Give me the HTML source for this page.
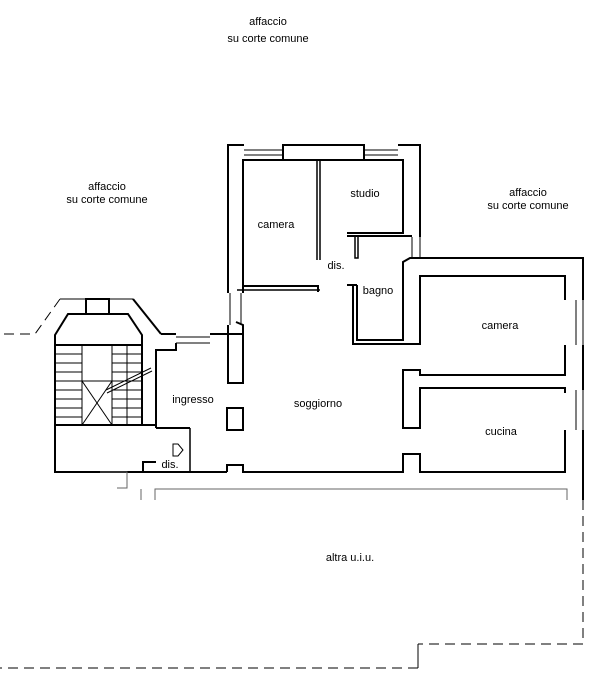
<!DOCTYPE html>
<html><head><meta charset="utf-8"><style>
html,body{margin:0;padding:0;background:#fff;}
svg{display:block;}
text{font-family:"Liberation Sans",sans-serif;font-size:11px;fill:#000;text-anchor:middle;}
</style></head><body>
<svg width="612" height="684" viewBox="0 0 612 684" xmlns="http://www.w3.org/2000/svg">
<g fill="none" stroke="#000" stroke-width="2">
<polyline points="243,293 243,160 283,160"/>
<polyline points="228,293 228,145 244,145"/>
<rect x="283" y="145" width="81" height="15"/>
<polyline points="398,145 420,145 420,237"/>
<polyline points="364,160 403,160 403,233 347,233"/>
<polyline points="347,236 412,236"/>
<rect x="355" y="236" width="3" height="22" stroke-width="1.5"/>
<line x1="317" y1="160" x2="317" y2="260" stroke-width="1.5"/>
<line x1="320" y1="160" x2="320" y2="260" stroke-width="1.5"/>
<polyline points="243,286 318,286 318,292"/>
<line x1="237" y1="290" x2="320" y2="290" stroke-width="1.5"/>
<polyline points="353,285 353,344 420,344 420,276 565,276 565,300"/>
<polyline points="357,285 357,340 403,340 403,262 410,258 583,258 583,300"/>
<line x1="347" y1="285" x2="357" y2="285"/>
<polyline points="565,345 565,375 420,375 420,370 403,370 403,428 420,428 420,388 565,388 565,393"/>
<polyline points="583,345 583,390"/>
<polyline points="565,430 565,472 420,472 420,454 403,454 403,472 243,472 243,465 227,465 227,472"/>
<polyline points="583,430 583,500"/>
<rect x="227" y="408" width="16" height="22"/>
<polyline points="228,325 228,383 243,383 243,325 236,322"/>
<polyline points="161,334 176,334"/>
<polyline points="210,334 243,334"/>
<polyline points="156,428 156,350 176,350 176,343"/>
<polyline points="227,472 55,472 55,335 68,314 128,314 142,335 142,425 156,425"/>
<polyline points="133,299 161,334"/>
<line x1="55" y1="345" x2="142" y2="345"/>
<line x1="55" y1="425" x2="142" y2="425"/>
<rect x="86" y="299" width="23" height="15"/>
<polyline points="190,428 190,472" stroke-width="1.5"/>
<polyline points="156,428 190,428"/>
<polyline points="143,472 143,462 156,462"/>
</g>
<g fill="none" stroke="#000" stroke-width="1">
<line x1="244" y1="150" x2="283" y2="150"/><line x1="244" y1="155" x2="283" y2="155"/>
<line x1="364" y1="150" x2="398" y2="150"/><line x1="364" y1="155" x2="398" y2="155"/>
<line x1="412" y1="237" x2="412" y2="258"/><line x1="420" y1="237" x2="420" y2="258"/>
<line x1="230" y1="293" x2="230" y2="325"/><line x1="241" y1="293" x2="241" y2="325"/>
<line x1="576" y1="300" x2="576" y2="345"/><line x1="583" y1="300" x2="583" y2="345"/>
<line x1="576" y1="390" x2="576" y2="430"/><line x1="583" y1="390" x2="583" y2="430"/>
<line x1="176" y1="337" x2="210" y2="337"/><line x1="176" y1="343" x2="210" y2="343"/>
<line x1="60" y1="299" x2="133" y2="299"/>
<line x1="82" y1="345" x2="82" y2="425"/><line x1="112" y1="345" x2="112" y2="425"/>
<line x1="82" y1="381" x2="112" y2="381"/>
<line x1="82" y1="381" x2="112" y2="425"/><line x1="112" y1="381" x2="82" y2="425"/>
<line x1="127" y1="345" x2="127" y2="425"/>
<line x1="55" y1="354" x2="82" y2="354"/><line x1="55" y1="363" x2="82" y2="363"/><line x1="55" y1="372" x2="82" y2="372"/><line x1="55" y1="381" x2="82" y2="381"/><line x1="55" y1="390" x2="82" y2="390"/><line x1="55" y1="399" x2="82" y2="399"/><line x1="55" y1="408" x2="82" y2="408"/><line x1="55" y1="417" x2="82" y2="417"/>
<line x1="112" y1="354" x2="142" y2="354"/><line x1="112" y1="363" x2="142" y2="363"/><line x1="112" y1="372" x2="142" y2="372"/><line x1="112" y1="381" x2="142" y2="381"/><line x1="112" y1="390" x2="142" y2="390"/><line x1="112" y1="399" x2="142" y2="399"/><line x1="112" y1="408" x2="142" y2="408"/><line x1="112" y1="417" x2="142" y2="417"/>
<line x1="106" y1="390" x2="151" y2="368"/><line x1="107" y1="393" x2="152" y2="371"/>
<path d="M173,444 L178,444 L183,450 L178,456 L173,456 Z"/>
</g>
<g fill="none" stroke="#666" stroke-width="1">
<polyline points="155,500 155,489 567,489 567,500"/>
<line x1="141" y1="489" x2="141" y2="500"/>
<polyline points="100,472 127,472 127,488 117,488"/>
</g>
<g fill="none" stroke="#000" stroke-width="1" stroke-dasharray="10,6">
<polyline points="583,500 583,644 418,644"/>
<polyline points="418,668 0,668"/>
<polyline points="60,299 35,334 0,334"/>
</g>
<line x1="418" y1="644" x2="418" y2="668" stroke="#000"/>
<text x="268" y="25">affaccio</text><text x="268" y="42">su corte comune</text>
<text x="107" y="190">affaccio</text><text x="107" y="203">su corte comune</text>
<text x="528" y="196">affaccio</text><text x="528" y="209">su corte comune</text>
<text x="276" y="228">camera</text>
<text x="365" y="197">studio</text>
<text x="336" y="269">dis.</text>
<text x="378" y="294">bagno</text>
<text x="500" y="329">camera</text>
<text x="318" y="407">soggiorno</text>
<text x="193" y="403">ingresso</text>
<text x="501" y="435">cucina</text>
<text x="170" y="468">dis.</text>
<text x="350" y="561">altra u.i.u.</text>
</svg>
</body></html>
